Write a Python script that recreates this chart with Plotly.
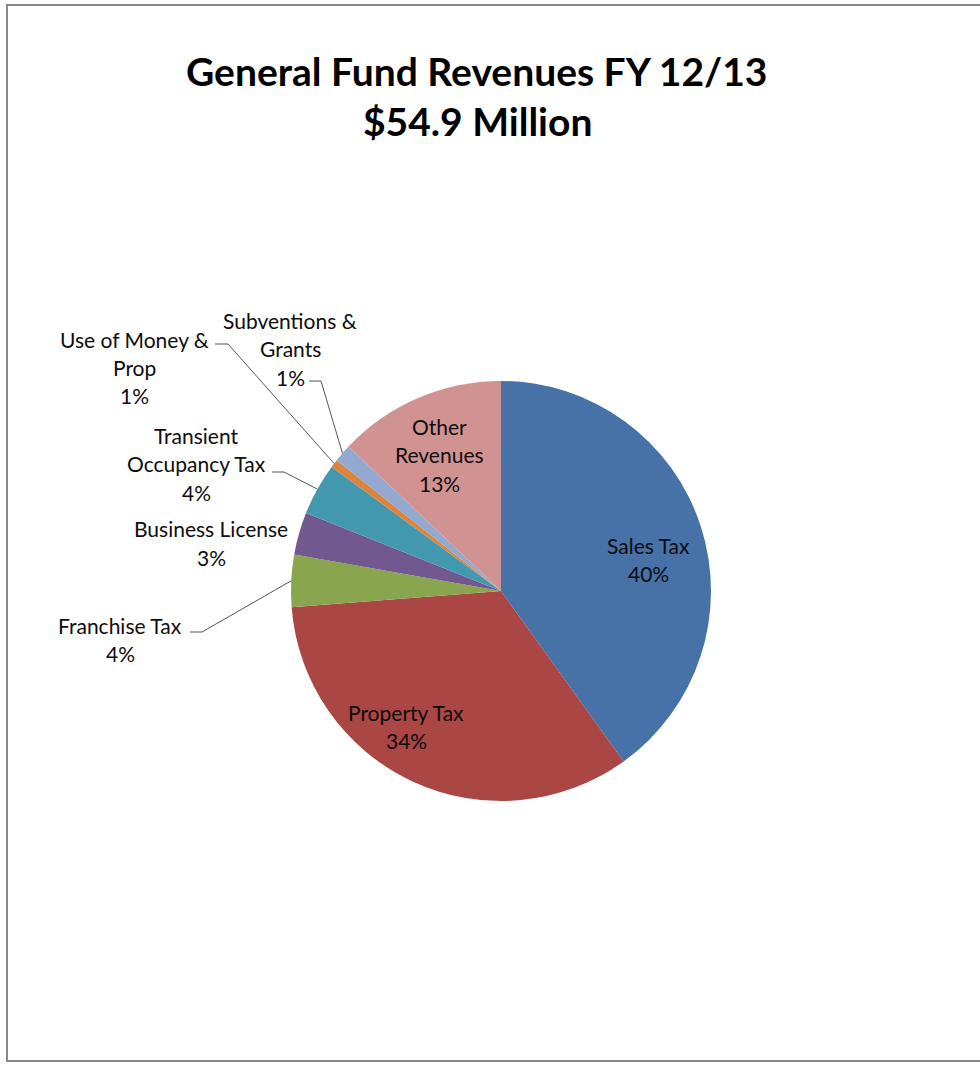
import math
import plotly.graph_objects as go

# ---- data ----
categories = ["Sales Tax", "Property Tax", "Franchise Tax", "Business License",
              "Transient Occupancy Tax", "Use of Money & Prop", "Subventions & Grants",
              "Other Revenues"]
values_musd = [22.0, 18.5, 2.2, 1.8, 2.2, 0.35, 0.75, 7.1]
label_lines = [["Sales Tax"], ["Property Tax"], ["Franchise Tax"], ["Business License"],
               ["Transient", "Occupancy Tax"], ["Use of Money &", "Prop"],
               ["Subventions &", "Grants"], ["Other", "Revenues"]]
title_lines = ["General Fund Revenues FY 12/13", "$54.9 Million"]

# ---- styles / layout ----
colors = ["#4672A8", "#AA4643", "#89A54E", "#71588F", "#4198AF", "#DB843D", "#93A9CF", "#D19392"]
W, H = 980, 1065
CX, CY, R = 501, 591, 210
LINE_H = 28.5
FONT = "Lato"
# label placement (pixel centre x, first-line y) and leader dash (x_start, x_end, y) or None
label_pos = [(648, 545), (406, 712), (120, 625), (211, 529), (196, 435), (134, 339), (290, 320), (439, 426)]
leader = [None, None, (190, 202, 632), None, (272, 284, 472), (215, 228, 344), (309, 321, 381), None]


def px(x):
    return x / W


def py(y):
    return 1 - y / H


total = sum(values_musd)
fig = go.Figure(go.Pie(
    labels=categories, values=values_musd, sort=False, direction="clockwise", rotation=0,
    marker=dict(colors=colors, line=dict(width=0)), textinfo="none", hoverinfo="label+percent",
    domain=dict(x=[px(CX - R), px(CX + R)], y=[py(CY + R), py(CY - R)]),
    showlegend=False,
))

annotations = []
shapes = []
cum = 0.0
for i, v in enumerate(values_musd):
    pct = v / total
    mid = (cum + pct / 2) * 2 * math.pi
    cum += pct
    lines = label_lines[i] + [f"{round(pct * 100):.0f}%"]
    x0, y0 = label_pos[i]
    for k, t in enumerate(lines):
        annotations.append(dict(text=t, x=px(x0), y=py(y0 + k * LINE_H), xref="paper", yref="paper",
                                xanchor="center", yanchor="middle", showarrow=False,
                                font=dict(family=FONT, size=21, color="#0d0d0d")))
    if leader[i] is not None:
        xs, xe, yl = leader[i]
        ex = CX + R * math.sin(mid)
        ey = CY - R * math.cos(mid)
        shapes.append(dict(type="path", xref="paper", yref="paper",
                           path=f"M {px(xs)},{py(yl)} L {px(xe)},{py(yl)} L {px(ex)},{py(ey)}",
                           line=dict(color="#555555", width=1)))

for k, t in enumerate(title_lines):
    annotations.append(dict(text=f"<b>{t}</b>", x=px(477), y=py(71 + k * 50), xref="paper", yref="paper",
                            xanchor="center", yanchor="middle", showarrow=False,
                            font=dict(family=FONT, size=39, color="#000000")))

# chart frame
shapes.append(dict(type="rect", xref="paper", yref="paper", x0=px(7), x1=px(990), y0=py(1061), y1=py(5),
                   line=dict(color="#888888", width=2), fillcolor="rgba(0,0,0,0)"))

fig.update_layout(width=W, height=H, margin=dict(l=0, r=0, t=0, b=0),
                  paper_bgcolor="white", plot_bgcolor="white",
                  annotations=annotations, shapes=shapes)
fig.write_html("out.html", config={"displayModeBar": False},
               post_script="document.body.style.margin='0';document.body.style.overflow='hidden';")
